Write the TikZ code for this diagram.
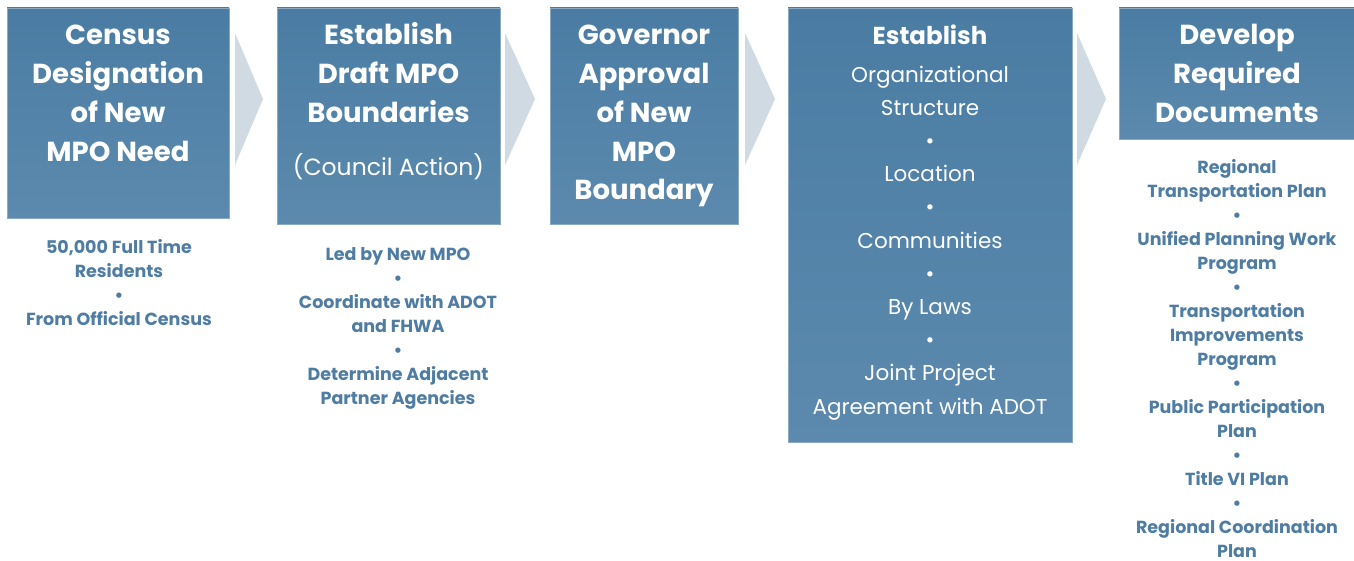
\documentclass[tikz,border=0pt]{standalone}
\usepackage{fontspec}
\setmainfont{Poppins}
\definecolor{boxtop}{HTML}{4A7CA3}
\definecolor{boxbot}{HTML}{5C8AAE}
\definecolor{subtext}{HTML}{4F7CA2}
\definecolor{chev}{HTML}{CFDAE2}
\definecolor{boxedge}{HTML}{8AAAC4}
\tikzset{
  stepbox/.style={draw=boxedge, line width=0.6pt, top color=boxtop, bottom color=boxbot},
  chevron/.style={fill=chev, draw=none},
  title/.style={font=\fontsize{27.5}{38.7}\selectfont\bfseries, text=white, align=center, inner sep=0pt, anchor=base},
  boxlist/.style={font=\fontsize{21.5}{33.2}\selectfont, text=white, align=center, inner sep=0pt, anchor=base},
  sublist/.style={font=\fontsize{17.5}{24}\selectfont\bfseries, text=subtext, align=center, inner sep=0pt, anchor=base},
}
\begin{document}
\begin{tikzpicture}[x=1pt,y=-1pt]
\useasboundingbox (0,0) rectangle (1354,561);
% boxes
\path[stepbox] (7,8) rectangle (229,218);
\path[stepbox] (277,8) rectangle (500,224);
\path[stepbox] (550,8) rectangle (738,224);
\path[stepbox] (788,8) rectangle (1072,442);
\path[stepbox] (1119,8) rectangle (1360,139);
% chevrons
\path[chevron] (235,33) -- (263,99) -- (235,165) -- cycle;
\path[chevron] (505,33) -- (535,99) -- (505,165) -- cycle;
\path[chevron] (745,33) -- (775,99) -- (745,165) -- cycle;
\path[chevron] (1077,33) -- (1106,99) -- (1077,165) -- cycle;
% titles (anchor base = baseline of last line)
\node[title] (t1) at (118,161.1) {Census\\Designation\\of New\\MPO Need};
\node[title] (t2) at (388.5,122.4) {Establish\\Draft MPO\\Boundaries};
\node[anchor=base, inner sep=0pt, text=white, font=\fontsize{23.5}{30}\selectfont] (t2b) at (388.5,176) {(Council Action)};
\node[title, font=\fontsize{24.5}{30}\selectfont\bfseries] (t4) at (930,45) {Establish};
\node[title] (t3) at (644,199.8) {Governor\\Approval\\of New\\MPO\\Boundary};
\node[boxlist] (t4b) at (930,414) {Organizational\\Structure\\•\\Location\\•\\Communities\\•\\By Laws\\•\\Joint Project\\Agreement with ADOT};
\node[title] (t5) at (1237,122.4) {Develop\\Required\\Documents};
% lists below
\node[sublist] (s1) at (119,325) {50,000 Full Time\\Residents\\•\\From Official Census};
\node[sublist] (s2) at (398,404) {Led by New MPO\\•\\Coordinate with ADOT\\and FHWA\\•\\Determine Adjacent\\Partner Agencies};
\node[sublist] (s5) at (1237,557) {Regional\\Transportation Plan\\•\\Unified Planning Work\\Program\\•\\Transportation\\Improvements\\Program\\•\\Public Participation\\Plan\\•\\Title VI Plan\\•\\Regional Coordination\\Plan};
\end{tikzpicture}
\end{document}
